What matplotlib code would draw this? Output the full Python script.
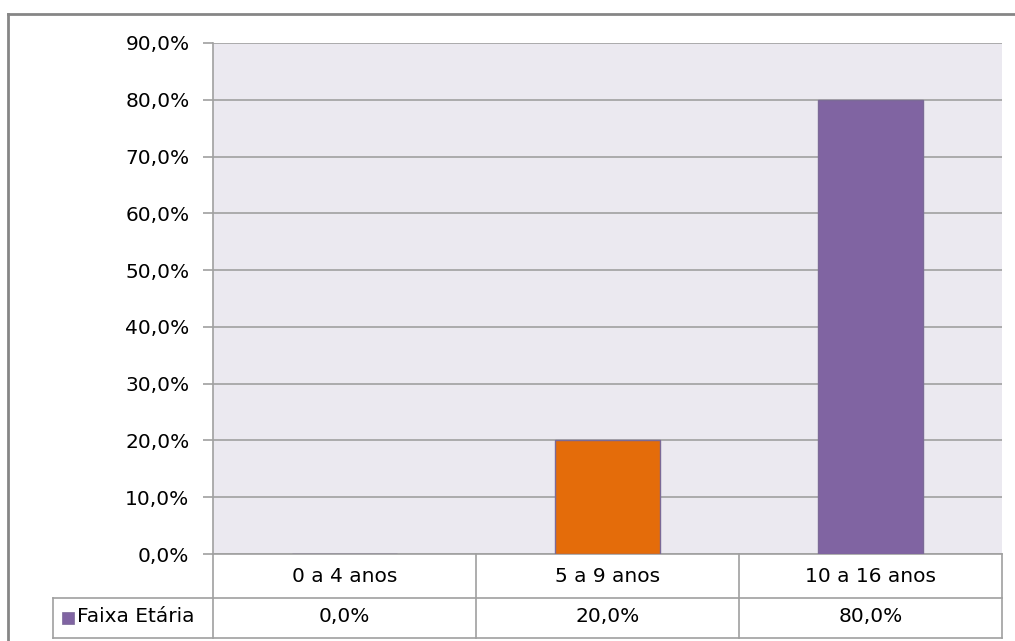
import matplotlib
matplotlib.use("Agg")
import matplotlib.pyplot as plt
from matplotlib.transforms import blended_transform_factory
from matplotlib.patches import Rectangle
from matplotlib.lines import Line2D

categories = ["0 a 4 anos", "5 a 9 anos", "10 a 16 anos"]
values = [0.0, 0.20, 0.80]
bar_colors = ["#4F81BD", "#E46C0A", "#8064A2"]
series_name = "Faixa Etária"
yticks = [0.0, 0.1, 0.2, 0.3, 0.4, 0.5, 0.6, 0.7, 0.8, 0.9]

def pct(v):
    return f"{v*100:.1f}%".replace(".", ",")

W, H = 1015, 641
fig = plt.figure(figsize=(W / 100, H / 100), dpi=100)
plt.rcParams['font.family'] = ['DejaVu Sans']
FS = 14.5

# plot area in pixels
L, T, R, B = 213, 43, 1002, 554
ax = fig.add_axes([L / W, 1 - B / H, (R - L) / W, (B - T) / H])
ax.set_facecolor("#EBE9F0")
ax.set_xlim(-0.5, len(categories) - 0.5)
ax.set_ylim(0, 0.9)
ax.set_yticks(yticks)
ax.set_yticklabels([pct(v) for v in yticks], fontsize=FS)
ax.set_xticks([])
ax.grid(axis="y", color="#A0A0A0", lw=1.2)
ax.set_axisbelow(True)
for s in ["top", "right"]:
    ax.spines[s].set_visible(False)
for s in ["left", "bottom"]:
    ax.spines[s].set_color("#A0A0A0")
    ax.spines[s].set_linewidth(1.2)
ax.tick_params(axis="y", length=7, width=1.2, color="#A0A0A0", pad=10)

x = list(range(len(categories)))
ax.bar(x, values, width=0.4, color=bar_colors, edgecolor="#7B6A97", linewidth=1, zorder=3)

# data table below the axis
tr = blended_transform_factory(ax.transData, ax.transAxes)
cat_w = (R - L) / len(categories)
def ya(py):
    return (B - py) / (B - T)
def xd(px):
    return -0.5 + (px - L) / cat_w

lc = "#A0A0A0"
row1, row2 = 598, 638
for py, x0 in [(row1, 53), (row2, 53)]:
    ax.add_line(Line2D([xd(x0), xd(R)], [ya(py), ya(py)], transform=tr, color=lc, lw=1.2, clip_on=False))
for px in [L, L + cat_w, L + 2 * cat_w, R]:
    ax.add_line(Line2D([xd(px), xd(px)], [ya(B), ya(row2)], transform=tr, color=lc, lw=1.2, clip_on=False))
ax.add_line(Line2D([xd(53), xd(53)], [ya(row1), ya(row2)], transform=tr, color=lc, lw=1.2, clip_on=False))

for i, c in enumerate(categories):
    ax.text(i, ya(577), c, transform=tr, ha="center", va="center", fontsize=FS, clip_on=False)
    ax.text(i, ya(617), pct(values[i]), transform=tr, ha="center", va="center", fontsize=FS, clip_on=False)

# legend key + series name
ax.add_patch(Rectangle((xd(62), ya(624)), xd(74) - xd(62), ya(612) - ya(624), transform=tr,
                       facecolor="#8064A2", edgecolor="#7B6A97", lw=0.5, clip_on=False))
ax.text(xd(77), ya(617), series_name, transform=tr, ha="left", va="center", fontsize=FS, clip_on=False)

# outer chart border
fig.add_artist(Line2D([8 / W, 8 / W], [1 - 14 / H, 0], transform=fig.transFigure, color="#868686", lw=2))
fig.add_artist(Line2D([8 / W, 1], [1 - 14 / H, 1 - 14 / H], transform=fig.transFigure, color="#868686", lw=2))

fig.savefig("out.png", dpi=100)
